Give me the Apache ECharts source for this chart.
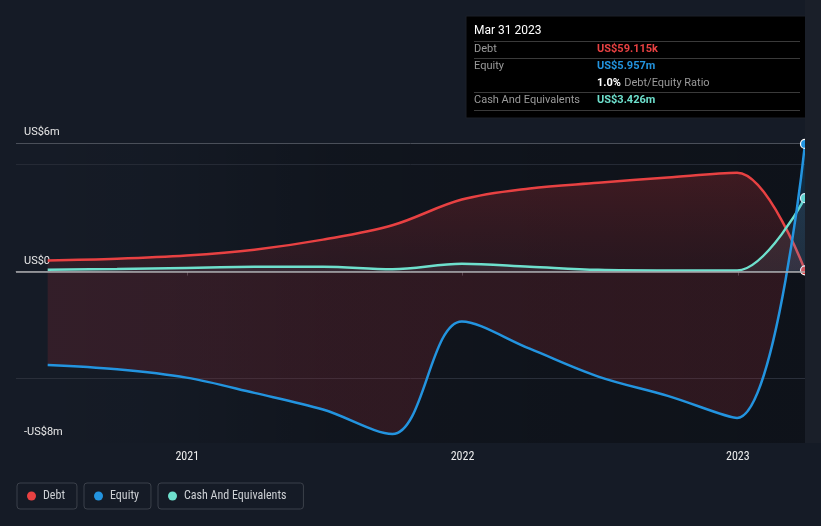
<!DOCTYPE html>
<html>
<head>
<meta charset="utf-8">
<script src="https://cdn.jsdelivr.net/npm/echarts@6/dist/echarts.min.js"></script>
<style>
html,body{margin:0;padding:0;background:#151b26;}
#c{width:821px;height:526px;}
</style>
</head>
<body>
<div id="c"></div>
<script>
// ---- data (values in US$ millions) ----
const dates = ['2020-06-30','2020-09-30','2020-12-31','2021-03-31','2021-06-30','2021-09-30',
               '2021-12-31','2022-03-31','2022-06-30','2022-09-30','2022-12-31','2023-03-31'];
const debt   = [0.52, 0.60, 0.75, 1.02, 1.49, 2.16, 3.36, 3.88, 4.14, 4.39, 4.61, 0.059115];
const equity = [-4.36, -4.56, -4.95, -5.66, -6.44, -7.58, -2.33, -3.60, -4.90, -5.80, -6.83, 5.957];
const cash   = [0.08, 0.12, 0.17, 0.22, 0.23, 0.11, 0.37, 0.23, 0.08, 0.05, 0.05, 3.426];
const seriesNames = ['Debt', 'Equity', 'Cash And Equivalents'];
const yTickLabels = { '6': 'US$6m', '0': 'US$0', '-8': '-US$8m' };
const xMin = '2020-05-19';
const xMax = '2023-03-31';
const tooltipDate = 'Mar 31 2023';

const colors = { debt: '#e84142', equity: '#2394df', cash: '#6ee0cd' };
const last = dates.length - 1;
const narrowFont = "'Liberation Sans Narrow', 'Roboto Condensed', 'DejaVu Sans Condensed', 'Liberation Sans', sans-serif";

function fmtMoney(m) {
  if (Math.abs(m) < 1) return 'US$' + (m * 1000).toFixed(3) + 'k';
  return 'US$' + m.toFixed(3) + 'm';
}
function pairs(arr) { return arr.map((v, i) => [dates[i], v]); }
const endSymbol = (v, p) => (p.dataIndex === last ? 'circle' : 'none');

const chart = echarts.init(document.getElementById('c'));

const G = { left: 16, right: 16, top: 143, bottom: 83 };
const plotW = 821 - G.left - G.right, plotH = 526 - G.top - G.bottom;

const splitColors = [];
for (let v = -8; v <= 6; v++) {
  if (v === 6) splitColors.push('#4a4f59');
  else if (v === 5) splitColors.push('#252a35');
  else if (v === -5) splitColors.push('#2a2f3a');
  else splitColors.push('rgba(0,0,0,0)');
}

const zeroFrac = 6 / 14;
const ratio = debt[last] / equity[last] * 100;

const tx = 466, ty = 16;
const labelFont = '11px Roboto';
const valFont = 'bold 11px Roboto';
const legendLefts = [17, 84, 158];
const legendPadRight = [12, 12, 17];

chart.setOption({
  backgroundColor: '#151b26',
  animation: false,
  grid: G,
  xAxis: {
    type: 'time',
    min: xMin, max: xMax,
    minInterval: 365 * 86400000,
    splitLine: { show: false },
    axisLine: { lineStyle: { color: '#4a4f59', width: 1 } },
    axisTick: { show: true, length: 4, lineStyle: { color: '#4a4f59' } },
    axisLabel: {
      color: '#ececec', fontSize: 12, fontFamily: narrowFont, margin: 8,
      formatter: (val) => { const d = new Date(val); return (d.getMonth() === 0 && d.getDate() === 1) ? String(d.getFullYear()) : ''; }
    }
  },
  yAxis: {
    type: 'value', min: -8, max: 6, interval: 1,
    axisLine: { show: false }, axisTick: { show: false },
    splitLine: { show: true, lineStyle: { color: splitColors, width: 1 } },
    axisLabel: {
      inside: true, margin: 8, color: '#e8e8e8', fontSize: 11, fontFamily: 'Roboto',
      verticalAlign: 'bottom', padding: [0, 0, 5, 0],
      formatter: (v) => yTickLabels[String(v)] || ''
    }
  },
  legend: seriesNames.map((n, i) => ({
    data: [n], left: legendLefts[i], top: 483, orient: 'horizontal',
    padding: [7, legendPadRight[i], 7, 10], itemWidth: 9, itemHeight: 9, icon: 'circle', itemGap: 0,
    itemStyle: { borderWidth: 0 },
    borderColor: '#3b404a', borderWidth: 1, borderRadius: 3,
    textStyle: { color: '#cdd0d4', fontSize: 12, fontFamily: narrowFont, padding: [0, 0, 0, 2] },
    selectedMode: false
  })),
  series: [
    {
      name: seriesNames[0], type: 'line', data: pairs(debt), smooth: 0.35, z: 2,
      color: colors.debt, lineStyle: { width: 2.5, color: colors.debt },
      symbol: endSymbol, symbolSize: 9, showSymbol: true,
      itemStyle: { color: colors.debt, borderColor: '#ffffff', borderWidth: 1.2 },
      areaStyle: { color: new echarts.graphic.LinearGradient(0, 0, 0, 1, [
        { offset: 0, color: 'rgba(215,50,55,0.34)' },
        { offset: 1, color: 'rgba(150,40,50,0.26)' }
      ]) },
      markLine: {
        silent: true, symbol: ['none', 'none'], label: { show: false },
        lineStyle: { color: '#ababae', width: 1.7, type: 'solid' },
        data: [{ yAxis: 0 }]
      }
    },
    {
      name: seriesNames[2], type: 'line', data: pairs(cash), smooth: 0.35, z: 3,
      color: colors.cash, lineStyle: { width: 2.5, color: colors.cash },
      symbol: endSymbol, symbolSize: 9, showSymbol: true,
      itemStyle: { color: colors.cash, borderColor: '#ffffff', borderWidth: 1.2 },
      areaStyle: { color: 'rgba(170,180,190,0.16)' }
    },
    {
      name: seriesNames[1], type: 'line', data: pairs(equity), smooth: 0.35, z: 4,
      color: colors.equity, lineStyle: { width: 2.5, color: colors.equity },
      symbol: endSymbol, symbolSize: 9, showSymbol: true,
      itemStyle: { color: colors.equity, borderColor: '#ffffff', borderWidth: 1.2 },
      areaStyle: { color: new echarts.graphic.LinearGradient(0, G.top, 0, G.top + plotH, [
        { offset: 0, color: 'rgba(35,148,223,0.32)' },
        { offset: zeroFrac, color: 'rgba(35,148,223,0.14)' },
        { offset: zeroFrac + 0.0005, color: 'rgba(150,40,50,0.33)' },
        { offset: 1, color: 'rgba(150,40,50,0.33)' }
      ], true) }
    }
  ],
  graphic: [
    { type: 'rect', z: -1, silent: true,
      shape: { x: G.left, y: G.top, width: plotW, height: plotH },
      style: { fill: new echarts.graphic.LinearGradient(0, 0, 1, 0, [
        { offset: 0, color: 'rgba(0,0,0,0)' },
        { offset: 0.15, color: 'rgba(0,0,0,0.03)' },
        { offset: 0.4, color: 'rgba(0,0,0,0.22)' },
        { offset: 0.75, color: 'rgba(0,0,0,0.3)' },
        { offset: 1, color: 'rgba(0,0,0,0.32)' }
      ]) } },
    { type: 'rect', z: 100, silent: true,
      shape: { x: 821 - G.right, y: 0, width: G.right, height: G.top + plotH },
      style: { fill: '#1a1f29' } },
    { type: 'group', z: 101, silent: true, children: [
      { type: 'rect', shape: { x: tx, y: ty, width: 340, height: 102 }, style: { fill: '#000000', stroke: '#1c2028', lineWidth: 1 } },
      { type: 'text', x: tx + 8, y: 31, style: { text: tooltipDate, fill: '#ffffff', font: '12px Roboto', verticalAlign: 'middle' } },
      { type: 'line', shape: { x1: tx + 8, y1: 41.5, x2: tx + 334, y2: 41.5 }, style: { stroke: '#3a3a3a', lineWidth: 1 } },
      { type: 'text', x: tx + 8, y: 49.5, style: { text: seriesNames[0], fill: '#9a9a9a', font: labelFont, verticalAlign: 'middle' } },
      { type: 'text', x: 597, y: 49.5, style: { text: fmtMoney(debt[last]), fill: colors.debt, font: valFont, verticalAlign: 'middle' } },
      { type: 'line', shape: { x1: tx + 8, y1: 58.5, x2: tx + 334, y2: 58.5 }, style: { stroke: '#3a3a3a', lineWidth: 1 } },
      { type: 'text', x: tx + 8, y: 66.5, style: { text: seriesNames[1], fill: '#9a9a9a', font: labelFont, verticalAlign: 'middle' } },
      { type: 'text', x: 597, y: 66.5, style: { text: fmtMoney(equity[last]), fill: colors.equity, font: valFont, verticalAlign: 'middle' } },
      { type: 'text', x: 597, y: 83.5, style: {
          text: '{b|' + ratio.toFixed(1) + '%} {g|Debt/Equity Ratio}', verticalAlign: 'middle',
          rich: { b: { fill: '#ffffff', font: valFont }, g: { fill: '#9a9a9a', font: labelFont } } } },
      { type: 'line', shape: { x1: tx + 8, y1: 92.5, x2: tx + 334, y2: 92.5 }, style: { stroke: '#3a3a3a', lineWidth: 1 } },
      { type: 'text', x: tx + 8, y: 100.5, style: { text: seriesNames[2], fill: '#9a9a9a', font: labelFont, verticalAlign: 'middle' } },
      { type: 'text', x: 597, y: 100.5, style: { text: fmtMoney(cash[last]), fill: colors.cash, font: valFont, verticalAlign: 'middle' } },
      { type: 'line', shape: { x1: tx + 8, y1: 110.5, x2: tx + 334, y2: 110.5 }, style: { stroke: '#3a3a3a', lineWidth: 1 } }
    ] }
  ]
});
</script>
</body>
</html>
